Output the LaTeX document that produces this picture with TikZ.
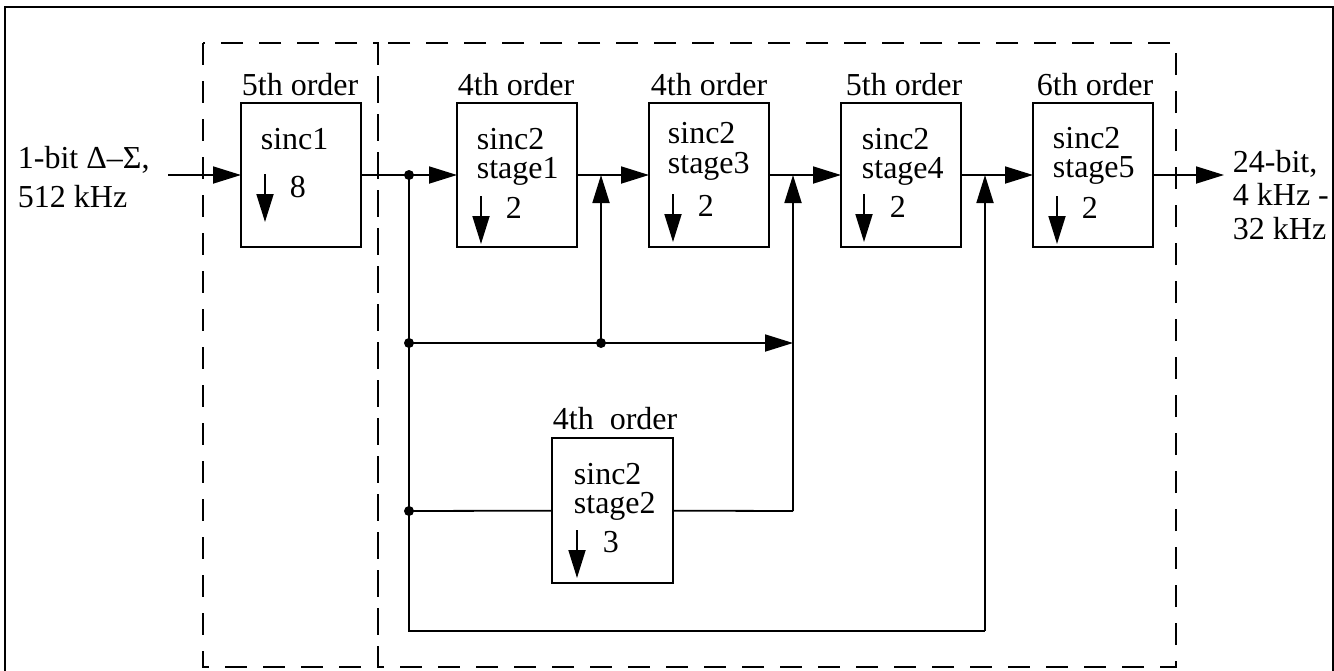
\documentclass[tikz,border=0pt]{standalone}
\usepackage{fontspec}
\setmainfont{Liberation Serif}
\usetikzlibrary{arrows.meta}
\begin{document}
\begin{tikzpicture}[x=0.5pt,y=-0.5pt, line width=0.9pt,
  blk/.style={draw, minimum width=60pt, minimum height=72pt, inner sep=0pt, outer sep=0pt},
  txt/.style={anchor=base west, inner sep=0pt, font=\fontsize{16}{16}\selectfont},
  arr/.style={-{Triangle[length=14pt,width=8.5pt]}},
  dot/.style={circle, fill, inner sep=0pt, minimum size=5pt},
  dsh/.style={dash pattern=on 11pt off 8pt}]
\useasboundingbox (0,0) rectangle (1334,670);
% outer frame
\draw (5,690) -- (5,7) -- (1333,7) -- (1333,690);
% dashed groups
\draw[dsh] (203,43) rectangle (378,667);
\draw[dsh] (378,43) rectangle (1176,667);
% blocks
\node[blk] (s1) at (301,175) {};
\node[blk] (st1) at (517,175) {};
\node[blk] (st3) at (709,175) {};
\node[blk] (st4) at (901,175) {};
\node[blk] (st5) at (1093,175) {};
\node[blk, minimum width=60.5pt, minimum height=72.5pt] (st2) at (612.5,510.5) {};
% order labels
\node[txt] (o1) at (241,95) {5th order};
\node[txt] (o2) at (457,95) {4th order};
\node[txt] (o3) at (650,95) {4th order};
\node[txt] (o4) at (845,95) {5th order};
\node[txt] (o5) at (1036,95) {6th order};
\node[txt] (o6) at (552,429) {4th\ \ order};
% block texts
\node[txt] (t1a) at (260,149) {sinc1};
\node[txt] (t1b) at (289,197) {8};
\node[txt] (t2a) at (476,149) {sinc2};
\node[txt] (t2b) at (476,178) {stage1};
\node[txt] (t2c) at (505,218) {2};
\node[txt] (t3a) at (667,143) {sinc2};
\node[txt] (t3b) at (667,173) {stage3};
\node[txt] (t3c) at (697,216) {2};
\node[txt] (t4a) at (861,149) {sinc2};
\node[txt] (t4b) at (861,178) {stage4};
\node[txt] (t4c) at (889,217) {2};
\node[txt] (t5a) at (1052,148) {sinc2};
\node[txt] (t5b) at (1052,177) {stage5};
\node[txt] (t5c) at (1081,218) {2};
\node[txt] (t6a) at (573,484) {sinc2};
\node[txt] (t6b) at (573,513) {stage2};
\node[txt] (t6c) at (602,552) {3};
% decimation arrows
\draw[arr] ([shift={(24,71)}]s1.north west) -- ++(0,48);
\draw[arr] ([shift={(24,93)}]st1.north west) -- ++(0,48);
\draw[arr] ([shift={(24,91)}]st3.north west) -- ++(0,48);
\draw[arr] ([shift={(23,91)}]st4.north west) -- ++(0,48);
\draw[arr] ([shift={(24,93)}]st5.north west) -- ++(0,48);
\draw[arr] ([shift={(25,92)}]st2.north west) -- ++(0,48);
% input / output labels
\node[txt] (in1) at (17,168) {1-bit Δ–Σ,};
\node[txt] (in2) at (17,207) {512 kHz};
\node[txt] (out1) at (1232,172) {24-bit,};
\node[txt] (out2) at (1232,205) {4 kHz -};
\node[txt] (out3) at (1232,239) {32 kHz};
% junctions
\coordinate (in) at (168,175);
\coordinate (out) at (1224,175);
\node[dot] (j1) at (409,175) {};
\node[dot] (j2) at (409,343) {};
\node[dot] (j3) at (601,343) {};
\node[dot] (j4) at (409,511) {};
\coordinate (c1) at (409,631);
\coordinate (c2) at (985,631);
\coordinate (m1) at (601,175);
\coordinate (m2) at (793,175);
\coordinate (m3) at (985,175);
\coordinate (b2) at (793,343);
\coordinate (r2) at (793,511);
% connectors
\draw[arr] (in) -- (s1);
\draw (s1) -- (j1.center);
\draw[arr] (j1.center) -- (st1);
\draw[arr] (st1) -- (st3);
\draw[arr] (st3) -- (st4);
\draw[arr] (st4) -- (st5);
\draw[arr] (st5) -- (out);
\draw (j1.center) -- (c1) -- (c2);
\draw[arr] (c2) -- (m3);
\draw (j2.center) -- (j3.center);
\draw[arr] (j3.center) -- (b2);
\draw[arr] (j3.center) -- (m1);
\draw (j4.center) -- (st2);
\draw (st2) -- (r2);
\draw[arr] (r2) -- (m2);
\end{tikzpicture}
\end{document}
